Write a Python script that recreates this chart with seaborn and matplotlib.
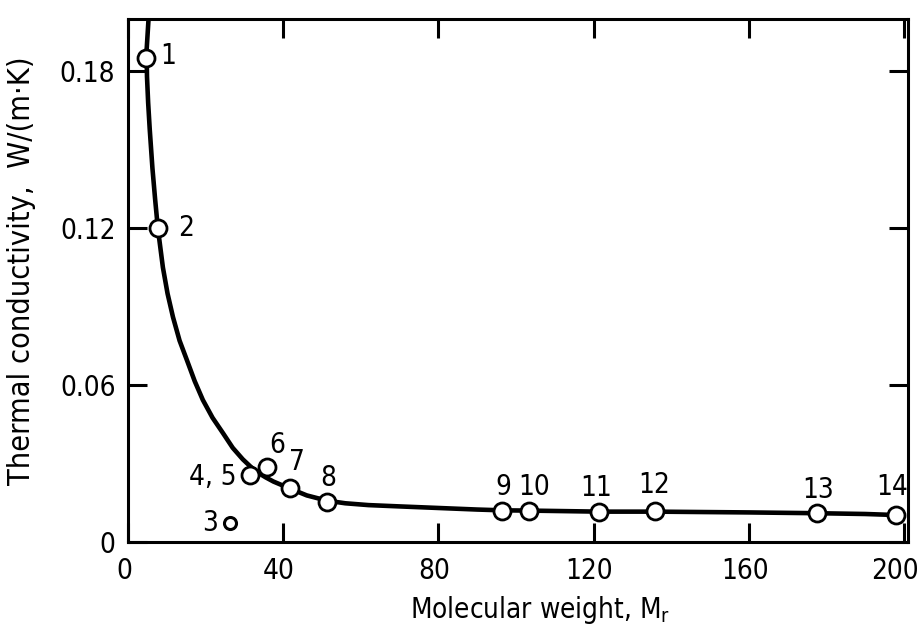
import matplotlib
matplotlib.use("Agg")
import matplotlib.pyplot as plt
import matplotlib.transforms as mtransforms
import seaborn as sns
import pandas as pd

# Measured gases: molecular weight and thermal conductivity, W/(m·K)
point_ids = ["1", "2", "3", "4, 5", "6", "7", "8", "9", "10", "11", "12", "13", "14"]
mol_weight = [4.6, 7.7, 26.3, 31.4, 35.8, 41.8, 51.3, 96.5, 103.3, 121.5, 135.8, 177.6, 198.0]
conductivity = [0.185, 0.120, 0.0073, 0.0256, 0.0287, 0.0206, 0.0153, 0.0118, 0.0118, 0.0115, 0.0118, 0.0111, 0.0103]

# Smoothed trend curve traced through the measurements
curve_mw = [5.3, 4.8, 4.9, 5.2, 5.6, 6.3, 7.0, 7.7, 9.0, 10.2, 11.6, 13.3, 15.2, 17.2,
            19.3, 21.8, 24.5, 27.0, 29.6, 31.6, 33.5, 35.5, 37.5, 41.8, 46.1, 51.3,
            56.0, 62.0, 70.0, 80.0, 90.0, 96.5, 103.3, 121.5, 135.8, 160.0, 177.6,
            190.0, 198.0]
curve_k = [0.200, 0.188, 0.178, 0.168, 0.158, 0.143, 0.131, 0.120, 0.105, 0.095, 0.086,
           0.077, 0.0695, 0.0615, 0.0543, 0.0475, 0.0416, 0.0360, 0.0316, 0.0288,
           0.0265, 0.0247, 0.0231, 0.0204, 0.0178, 0.0158, 0.0148, 0.0141, 0.0136,
           0.0130, 0.0124, 0.0121, 0.0120, 0.0116, 0.0116, 0.0113, 0.0110, 0.0107, 0.0103]

# Label offsets (pixels) for each point number
label_dx = [22, 28, -20, -37, 10, 7, 1, 1, 5, -3, -1, 1, -4]
label_dy = [2, 0, 0, -2, 22, 26, 24, 24, 24, 24, 26, 23, 28]

x_ticks = [0, 40, 80, 120, 160, 200]
y_ticks = [0, 0.06, 0.12, 0.18]
y_tick_labels = ["0", "0.06", "0.12", "0.18"]

sns.set_style("ticks")
plt.rcParams["font.family"] = ["DejaVu Sans"]
plt.rcParams["font.stretch"] = "condensed"
plt.rcParams["text.color"] = "black"
plt.rcParams["axes.labelcolor"] = "black"

pts = pd.DataFrame({"mw": mol_weight, "k": conductivity, "id": point_ids})
curve = pd.DataFrame({"mw": curve_mw, "k": curve_k})

fig = plt.figure(figsize=(9.24, 6.35), dpi=100)
ax = fig.add_axes([0.1385, 0.1465, 0.844, 0.8236])

sns.lineplot(data=curve, x="mw", y="k", sort=False, color="black", linewidth=3.3,
             ax=ax, zorder=2)

main = pts[pts["id"] != "3"]
sns.scatterplot(data=main, x="mw", y="k", s=150, marker="o", facecolor="white",
                edgecolor="black", linewidth=2.0, ax=ax, zorder=3)
odd = pts[pts["id"] == "3"]
sns.scatterplot(data=odd, x="mw", y="k", s=75, marker="o", facecolor="white",
                edgecolor="black", linewidth=2.2, ax=ax, zorder=3)

for pid, x, y, dx, dy in zip(point_ids, mol_weight, conductivity, label_dx, label_dy):
    ax.annotate(pid, (x, y), xytext=(dx, dy), textcoords="offset pixels",
                ha="center", va="center", fontsize=20, color="black",
                fontstretch="condensed")

ax.set_xlim(0, 201)
ax.set_ylim(0, 0.2)
ax.set_xticks(x_ticks)
ax.set_xticklabels([str(t) for t in x_ticks])
ax.set_yticks(y_ticks)
ax.set_yticklabels(y_tick_labels)
ax.tick_params(axis="both", which="major", direction="in", length=14, width=2.2,
               labelsize=20, top=True, right=True, colors="black",
               labelcolor="black")
ax.tick_params(axis="x", pad=11)
ax.tick_params(axis="y", pad=9)
for lbl in ax.get_xticklabels() + ax.get_yticklabels():
    lbl.set_fontstretch("condensed")

# nudge the x tick numbers slightly left, the last one a bit more
xlabels = ax.get_xticklabels()
for i, lbl in enumerate(xlabels):
    shift = -9 if i == len(xlabels) - 1 else -4
    lbl.set_transform(lbl.get_transform() +
                      mtransforms.ScaledTranslation(shift / 100, 0, fig.dpi_scale_trans))

for side in ["left", "right", "top", "bottom"]:
    ax.spines[side].set_visible(True)
    ax.spines[side].set_linewidth(2.2)
    ax.spines[side].set_color("black")

ax.set_xlabel("Molecular weight, M$_\\mathregular{r}$", fontsize=20,
              fontstretch="condensed", color="black")
ax.set_ylabel("Thermal conductivity,  W/(m·K)", fontsize=22,
              fontstretch="condensed", color="black")
ax.xaxis.set_label_coords(0.528, -0.100)
ax.yaxis.set_label_coords(-0.118, 0.518)

fig.savefig("out.png", dpi=100)
